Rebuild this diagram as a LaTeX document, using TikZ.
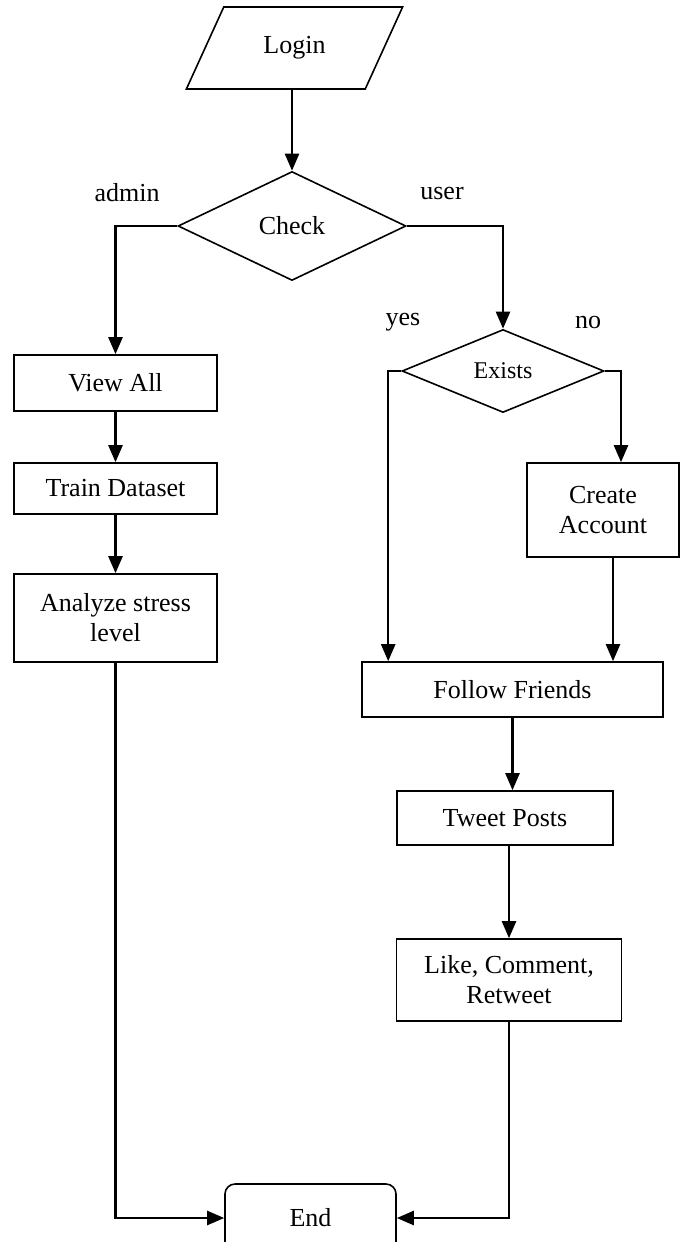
\documentclass[tikz,border=0pt]{standalone}
\usepackage{fontspec}
\setmainfont{Liberation Serif}
\usetikzlibrary{arrows.meta,shapes.geometric}

\begin{document}
\begin{tikzpicture}[x=1pt,y=-1pt,
  box/.style={draw,line width=1.6pt,align=center,inner sep=0pt,font=\fontsize{26}{30}\selectfont},
  io/.style={box,trapezium,trapezium left angle=54.3,trapezium right angle=125.7,trapezium stretches=true},
  dec/.style={box,diamond,aspect=2},
  term/.style={box,rounded corners=10pt},
  lbl/.style={inner sep=0pt,font=\fontsize{26}{30}\selectfont},
  >={Triangle[length=17pt,width=14pt]},line width=2.4pt]
\useasboundingbox (0,0) rectangle (680,1242);
\node[io,minimum width=217,minimum height=82] (login) at (294.5,48) {Login};
\node[dec,minimum width=228,minimum height=109] (check) at (292,226) {Check};
\node[lbl] (admin) at (127,193) {admin};
\node[lbl] (user) at (442,193) {user};
\node[dec,minimum width=202,minimum height=83,font=\fontsize{24}{28}\selectfont] (exists) at (503,371) {Exists};
\node[lbl] (yes) at (403,322) {yes};
\node[lbl] (no) at (588,322) {no};
% admin side
\node[box,minimum width=203,minimum height=56] (view) at (115.5,383) {View All};
\node[box,minimum width=203,minimum height=51] (train) at (115.5,488.5) {Train Dataset};
\node[box,minimum width=203,minimum height=88] (analyze) at (115.5,618) {Analyze stress\\level};
% user side
\node[box,minimum width=152,minimum height=94] (create) at (603,510) {Create\\Account};
\node[box,minimum width=301,minimum height=55] (ff) at (512.5,689.5) {Follow Friends};
\node[box,minimum width=216,minimum height=54] (tweet) at (505,818) {Tweet Posts};
\node[box,minimum width=225,minimum height=82] (like) at (509,980) {Like, Comment,\\Retweet};
\node[term,minimum width=171,minimum height=68] (end) at (310.5,1218) {End};

\draw[->] (login.south -| check.north) -- (check.north);
\draw[->] (check.west) -| (view.north);
\draw[->] (view) -- (train);
\draw[->] (train) -- (analyze);
\draw[->] (check.east) -| (exists.north);
\draw[->] (exists.west) -| ([xshift=27pt]ff.north west);
\draw[->] (exists.east) -| ([xshift=18pt]create.north);
\draw[->] ([xshift=10pt]create.south) -- ([xshift=10pt]create.south |- ff.north);
\draw[->] (ff.south) -- (ff.south |- tweet.north);
\draw[->] (tweet.south -| like.north) -- (like.north);
\draw[->] (analyze.south) |- (end.west);
\draw[->] (like.south) |- (end.east);
\end{tikzpicture}
\end{document}
